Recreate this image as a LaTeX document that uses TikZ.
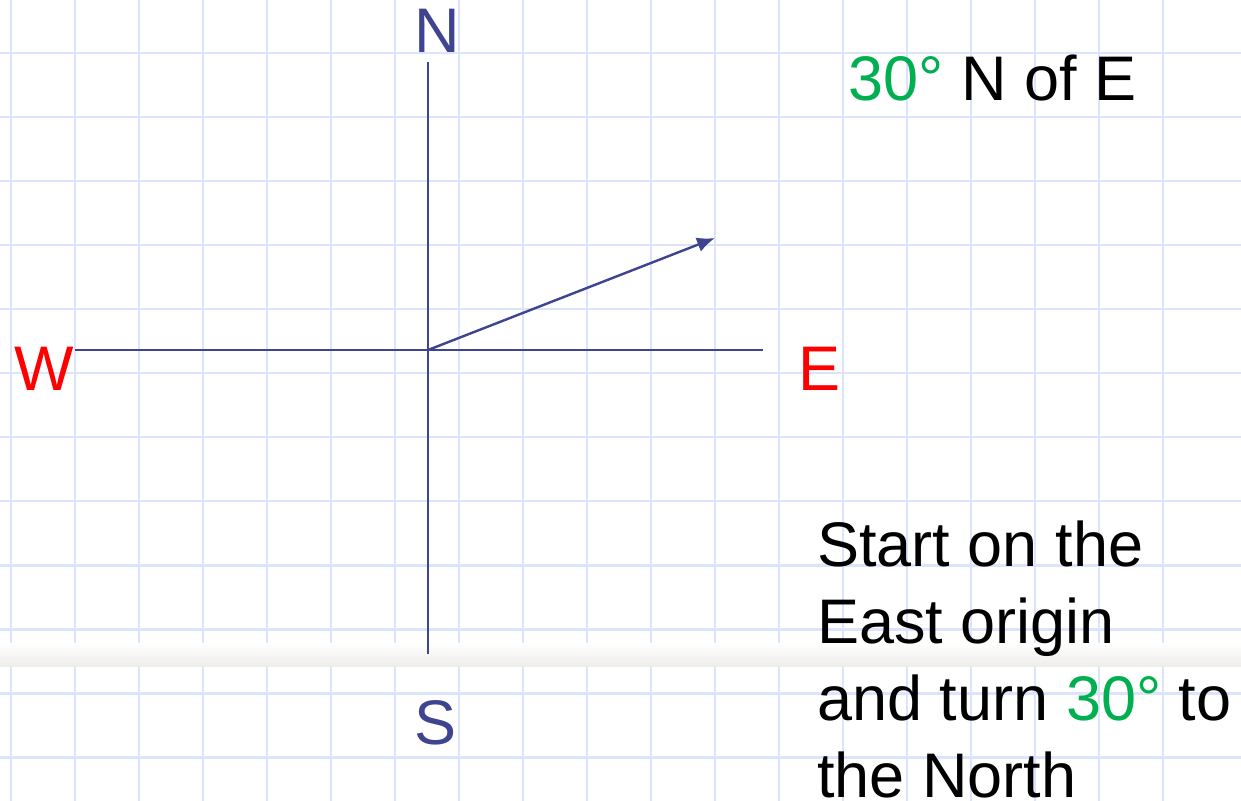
\documentclass[tikz,border=0pt]{standalone}
\usepackage{fontspec}
\setmainfont{Liberation Sans}
\usepackage{xcolor}
\usepackage{tikz}
\usetikzlibrary{arrows.meta,positioning}

\definecolor{axisblue}{RGB}{63,68,145}
\definecolor{dirred}{RGB}{255,0,0}
\definecolor{anglegreen}{RGB}{0,176,80}
\definecolor{gridblue}{RGB}{220,228,252}
\definecolor{bandgray}{RGB}{239,237,234}

\begin{document}
\begin{tikzpicture}[
            x=0.5pt, y=-0.5pt,
            gridline/.style={draw=gridblue, line width=1.2pt},
            axis/.style={draw=axisblue, line width=1pt},
            vec/.style={draw=axisblue, line width=1.2pt, -{Latex[length=9pt,width=7.5pt]}},
            compass/.style={inner sep=0pt, font=\fontsize{31.5}{38}\selectfont},
            bigtext/.style={inner sep=0pt, align=left, font=\fontsize{31.5}{38.5}\selectfont}
        ]

        \useasboundingbox (0,0) rectangle (1241,801);
        \fill[white] (0,0) rectangle (1241,801);

        % Grid paper
        \foreach \gx in {0,...,18}
            \draw[gridline] (10.7+64*\gx,0) -- (10.7+64*\gx,801);
        \foreach \gy in {0,...,11}
            \draw[gridline] (0,53.3+64*\gy) -- (1241,53.3+64*\gy);

        % Band across the slide
        \shade[top color=white, bottom color=bandgray] (0,643) rectangle (1241,666);

        % Axis ends and origin
        \coordinate (origin) at (428,350);
        \coordinate (northend) at (428,62);
        \coordinate (southend) at (428,654);
        \coordinate (westend) at (75,350);
        \coordinate (eastend) at (763,350);
        \coordinate (tip) at (715,238);

        % Axes
        \path [axis] (northend) -- (southend);
        \path [axis] (westend) -- (eastend);
        \path [vec] (origin) -- (tip);

        % Compass letters
        \node [compass, text=axisblue, anchor=base] (north) at (437,53) {N};
        \node [compass, text=axisblue, anchor=base] (south) at (436,744) {S};
        \node [compass, text=dirred, anchor=base] (west) at (44,391) {W};
        \node [compass, text=dirred, anchor=base] (east) at (819,391) {E};

        % Texts
        \node [bigtext, anchor=base west] (heading) at (848,101) {\textcolor{anglegreen}{30°} N of E};
        \node [bigtext, anchor=north west] (steps) at (817,520) {Start on the\\East origin\\and turn \textcolor{anglegreen}{30°} to\\the North};

    \end{tikzpicture}
\end{document}
